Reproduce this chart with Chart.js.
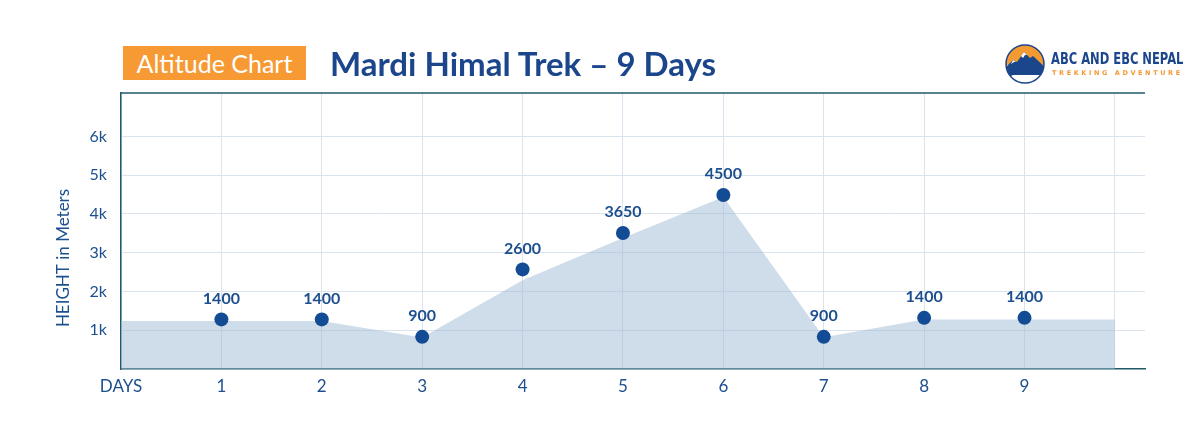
<!DOCTYPE html>
<html>
<head>
<meta charset="utf-8">
<script src="https://cdn.jsdelivr.net/npm/chart.js@4"></script>
<style>
  body { margin: 0; background: #fff; }
  #wrap { position: relative; width: 1200px; height: 432px; overflow: hidden; font-family: Lato, "Open Sans", sans-serif; }
  #chart { position: absolute; left: 0; top: 0; }
  .badge { position: absolute; left: 123px; top: 46px; width: 183px; height: 34px; background: #f79a33;
           color: #fff; font-size: 25px; line-height: 34px; text-align: center; }
  .title { position: absolute; left: 330px; top: 42px; color: #1b468c; font-size: 33px; font-weight: 700; line-height: 42px; white-space: nowrap; }
  .logo { position: absolute; left: 1004px; top: 43px; }
  .brand { position: absolute; left: 1051px; top: 51px; color: #1b468c; font-family: "Liberation Sans Narrow", "DejaVu Sans Condensed", sans-serif;
           font-weight: 700; font-size: 16px; line-height: 16px; white-space: nowrap; transform: scaleX(0.8); transform-origin: left; }
  .sub { position: absolute; left: 1052px; top: 69px; color: #f29a35; font-family: "DejaVu Sans", sans-serif; font-weight: 700;
         font-size: 6.5px; letter-spacing: 2.6px; line-height: 8px; white-space: nowrap; }
</style>
</head>
<body>
<div id="wrap">
  <canvas id="chart" width="1200" height="432"></canvas>
  <div class="badge">Altitude Chart</div>
  <div class="title">Mardi Himal Trek – 9 Days</div>
  <svg class="logo" width="42" height="42" viewBox="0 0 42 42">
    <defs><clipPath id="c"><circle cx="21" cy="21" r="19"/></clipPath></defs>
    <g clip-path="url(#c)">
      <rect x="0" y="0" width="42" height="42" fill="#fff"/>
      <rect x="0" y="0" width="42" height="22" fill="#f39a33"/>
      <polygon points="0,26 9,17 13,19 20,9 26,15 29,13 42,25 42,32 0,32" fill="#1b468c"/>
      <polygon points="17,13 20,9 23,12 21,12 19,15" fill="#fff"/>
      <polygon points="7,21 9,17 12,19 10,19" fill="#fff"/>
      <path d="M4,34 Q14,27 22,31 Q30,27 40,33" stroke="#1b468c" stroke-width="1.5" fill="none"/>
    </g>
    <circle cx="21" cy="21" r="19" fill="none" stroke="#1b468c" stroke-width="1.5"/>
  </svg>
  <div class="brand">ABC AND EBC NEPAL</div>
  <div class="sub">TREKKING ADVENTURE</div>
</div>
<script>
const dayTicks = [0, 1, 2, 3, 4, 5, 6, 7, 8, 9, 9.9];
const dayTickLabels = ['DAYS', '1', '2', '3', '4', '5', '6', '7', '8', '9', ''];
const days = [1, 2, 3, 4, 5, 6, 7, 8, 9];
const labelHeights = [1400, 1400, 900, 2600, 3650, 4500, 900, 1400, 1400];
const dotHeights = [1280, 1280, 830, 2570, 3510, 4490, 830, 1320, 1320];
const areaDays = [0, 1, 2, 3, 4, 5, 6, 7, 8, 9, 9.9];
const areaHeights = [1240, 1240, 1240, 810, 2290, 3380, 4440, 820, 1280, 1280, 1280];
const heightTicks = [1000, 2000, 3000, 4000, 5000, 6000];
const heightTickLabels = ['1k', '2k', '3k', '4k', '5k', '6k'];

const blue = '#1d4f8e';
const axisColor = '#1f5a6b';

// labels above the dots, top border and the y title
const extras = {
    id: 'extras',
    afterDatasetsDraw(chart) {
        const ctx = chart.ctx;
        const area = chart.chartArea;
        ctx.save();
        ctx.strokeStyle = axisColor;
        ctx.lineWidth = 1.5;
        ctx.beginPath();
        ctx.moveTo(area.left, area.top);
        ctx.lineTo(area.right, area.top);
        ctx.stroke();

        const meta = chart.getDatasetMeta(1);
        ctx.fillStyle = blue;
        ctx.font = 'bold 16px Lato';
        ctx.textAlign = 'center';
        ctx.textBaseline = 'middle';
        meta.data.forEach((pt, i) => {
            ctx.fillText(String(labelHeights[i]), pt.x, pt.y - 21);
        });

        ctx.translate(64, 258);
        ctx.rotate(-Math.PI / 2);
        ctx.font = '17px Lato';
        ctx.fillText('HEIGHT in Meters', 0, 0);
        ctx.restore();
    }
};

const ctx = document.getElementById('chart').getContext('2d');
new Chart(ctx, {
    type: 'line',
    data: {
        datasets: [{
            data: areaDays.map((d, i) => ({ x: d, y: areaHeights[i] })),
            fill: 'origin',
            backgroundColor: 'rgba(160, 185, 212, 0.5)',
            borderWidth: 0,
            pointRadius: 0,
            tension: 0,
            order: 2
        }, {
            data: days.map((d, i) => ({ x: d, y: dotHeights[i] })),
            showLine: false,
            pointRadius: 7,
            pointBackgroundColor: '#134b94',
            pointBorderWidth: 0,
            order: 1
        }]
    },
    options: {
        responsive: false,
        animation: false,
        events: [],
        layout: { padding: { left: 0, top: 93, right: 55, bottom: 0 } },
        plugins: { legend: { display: false }, tooltip: { enabled: false } },
        scales: {
            x: {
                type: 'linear',
                min: 0,
                max: 10.2,
                afterBuildTicks: scale => { scale.ticks = dayTicks.map(v => ({ value: v })); },
                afterFit: scale => { scale.height = 63; },
                ticks: {
                    padding: 7,
                    color: blue,
                    font: { family: 'Lato', size: 17 },
                    maxRotation: 0,
                    callback: (v, i) => dayTickLabels[i]
                },
                grid: { color: '#dbe3ee', drawTicks: false },
                border: { color: axisColor, width: 1.5 }
            },
            y: {
                min: 0,
                max: 7120,
                afterBuildTicks: scale => { scale.ticks = heightTicks.map(v => ({ value: v })); },
                afterFit: scale => { scale.width = 121; },
                ticks: {
                    padding: 14,
                    color: blue,
                    font: { family: 'Lato', size: 16 },
                    callback: (v, i) => heightTickLabels[i]
                },
                grid: { color: '#dbe3ee', drawTicks: false },
                border: { color: axisColor, width: 1.5 }
            }
        }
    },
    plugins: [extras]
});
</script>
</body>
</html>
